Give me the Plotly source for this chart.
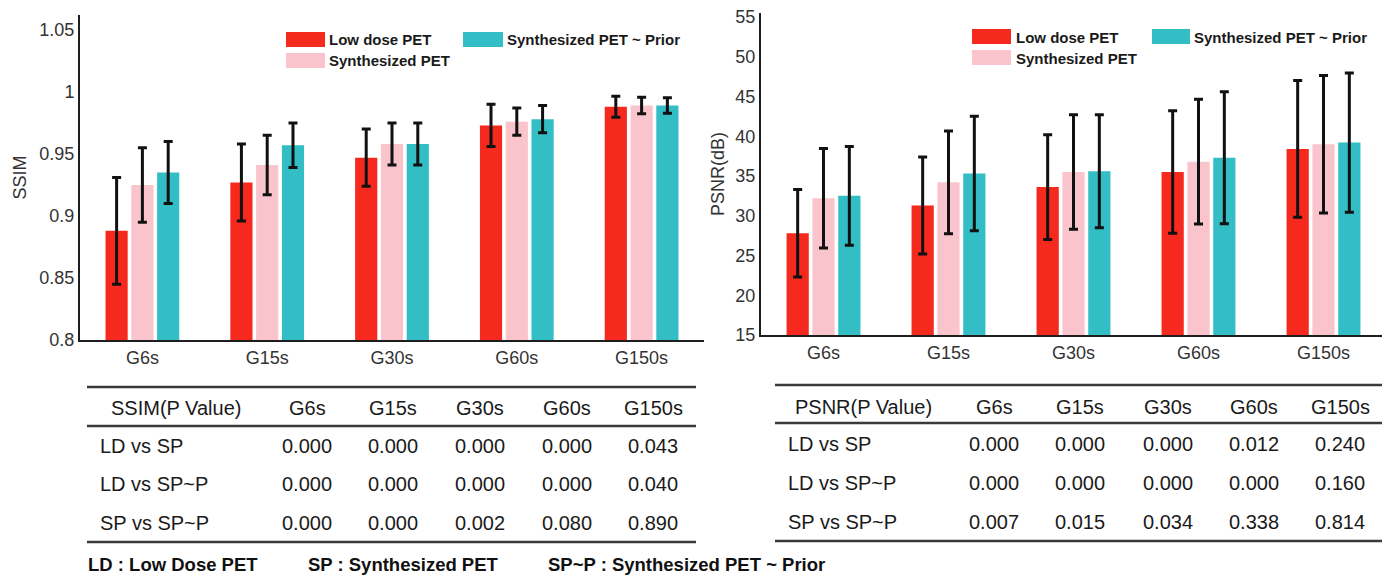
import plotly.graph_objects as go

# The page body has an 8px default margin; figure is sized so it fills the window from there.
OFF = 8
W, H = 1390 - OFF, 578 - OFF

# ---------------- data ----------------
groups = ["G6s", "G15s", "G30s", "G60s", "G150s"]
series_names = ["Low dose PET", "Synthesized PET", "Synthesized PET ~ Prior"]
series_colors = ["#F5291E", "#F9C4CB", "#33BEC6"]

ssim_ld = [0.888, 0.927, 0.947, 0.973, 0.988]
ssim_ld_err = [0.043, 0.031, 0.023, 0.017, 0.0085]
ssim_sp = [0.925, 0.941, 0.958, 0.976, 0.989]
ssim_sp_err = [0.030, 0.024, 0.017, 0.011, 0.0067]
ssim_spp = [0.935, 0.957, 0.958, 0.978, 0.989]
ssim_spp_err = [0.025, 0.018, 0.017, 0.011, 0.0063]

psnr_ld = [27.8, 31.3, 33.6, 35.5, 38.4]
psnr_ld_err = [5.5, 6.1, 6.6, 7.7, 8.6]
psnr_sp = [32.2, 34.2, 35.5, 36.8, 39.0]
psnr_sp_err = [6.25, 6.45, 7.2, 7.85, 8.65]
psnr_spp = [32.5, 35.3, 35.6, 37.3, 39.2]
psnr_spp_err = [6.2, 7.2, 7.1, 8.3, 8.75]

ssim_ticks = [0.8, 0.85, 0.9, 0.95, 1, 1.05]
psnr_ticks = [15, 20, 25, 30, 35, 40, 45, 50, 55]

table_cols = ["G6s", "G15s", "G30s", "G60s", "G150s"]
row_labels = ["LD vs SP", "LD vs SP~P", "SP vs SP~P"]
ssim_p = [
    ["0.000", "0.000", "0.000", "0.000", "0.043"],
    ["0.000", "0.000", "0.000", "0.000", "0.040"],
    ["0.000", "0.000", "0.002", "0.080", "0.890"],
]
psnr_p = [
    ["0.000", "0.000", "0.000", "0.012", "0.240"],
    ["0.000", "0.000", "0.000", "0.000", "0.160"],
    ["0.007", "0.015", "0.034", "0.338", "0.814"],
]
footer = ["LD : Low Dose PET", "SP : Synthesized PET", "SP~P : Synthesized PET ~ Prior"]

# ---------------- helpers (page pixel -> paper fraction) ----------------
FONT = "Arial, 'Liberation Sans', sans-serif"
def X(px):
    return (px - OFF) / W
def Y(py):
    return 1 - (py - OFF) / H

fig = go.Figure()

ssim_vals = [(ssim_ld, ssim_ld_err), (ssim_sp, ssim_sp_err), (ssim_spp, ssim_spp_err)]
psnr_vals = [(psnr_ld, psnr_ld_err), (psnr_sp, psnr_sp_err), (psnr_spp, psnr_spp_err)]

for (vals, errs), name, col in zip(ssim_vals, series_names, series_colors):
    fig.add_trace(go.Bar(
        x=groups, y=vals, name=name, marker_color=col, marker_line_width=0,
        error_y=dict(type="data", array=errs, color="#111111", thickness=3, width=4.5),
        xaxis="x", yaxis="y", showlegend=False, offsetgroup=name,
    ))
for (vals, errs), name, col in zip(psnr_vals, series_names, series_colors):
    fig.add_trace(go.Bar(
        x=groups, y=vals, name=name, marker_color=col, marker_line_width=0,
        error_y=dict(type="data", array=errs, color="#111111", thickness=3, width=4.5),
        xaxis="x2", yaxis="y2", showlegend=False, offsetgroup=name,
    ))

axis_common = dict(
    showline=True, linecolor="#1e1e1e", linewidth=2, showgrid=False, zeroline=False,
    ticks="", tickfont=dict(family=FONT, size=18, color="#333333"), automargin=False,
    ticklabeloverflow="allow",
)

fig.update_layout(
    width=W, height=H, autosize=False,
    margin=dict(l=0, r=0, t=0, b=0),
    paper_bgcolor="white", plot_bgcolor="white",
    barmode="group", bargap=0.38, bargroupgap=0.14,
    font=dict(family=FONT, color="#222222"),
    xaxis=dict(domain=[X(80), X(704)], anchor="y", **axis_common),
    yaxis=dict(domain=[Y(340), Y(15)], anchor="x", range=[0.8, 1.062],
               tickvals=ssim_ticks,
               title=dict(text="SSIM", font=dict(family=FONT, size=18, color="#333333"), standoff=8),
               **axis_common),
    xaxis2=dict(domain=[X(761), X(1386)], anchor="y2", **axis_common),
    yaxis2=dict(domain=[Y(335), Y(13)], anchor="x2", range=[15, 55.5],
                tickvals=psnr_ticks,
                title=dict(text="PSNR(dB)", font=dict(family=FONT, size=18, color="#333333"), standoff=6),
                **axis_common),
)

shapes = []
annotations = []

# ---------------- manual legends ----------------
legend_specs = [
    # (box x0, box x1, box y0, box y1, text x, text y)
    [(286, 325, 32, 47, 328, 40), (286, 325, 53, 68, 328, 61), (463, 503, 32, 47, 506, 40)],
    [(972, 1011, 29, 44, 1015, 37), (972, 1011, 50, 65, 1015, 58), (1152, 1190, 29, 44, 1193, 37)],
]
for spec in legend_specs:
    for (bx0, bx1, by0, by1, tx, ty), name, col in zip(spec, series_names, series_colors):
        shapes.append(dict(type="rect", xref="paper", yref="paper",
                           x0=X(bx0), x1=X(bx1), y0=Y(by1), y1=Y(by0),
                           fillcolor=col, line=dict(width=0)))
        annotations.append(dict(xref="paper", yref="paper", x=X(tx), y=Y(ty),
                                text=f"<b>{name}</b>", showarrow=False,
                                xanchor="left", yanchor="middle", borderpad=0,
                                font=dict(family=FONT, size=15, color="#1a1a1a")))

# ---------------- tables ----------------
def add_table(title, pvals, x0, x1, y_top, y_hb, y_bot, y_head, rows_y,
              title_cx, label_x, col_x):
    for yy in (y_top, y_hb, y_bot):
        shapes.append(dict(type="line", xref="paper", yref="paper",
                           x0=X(x0), x1=X(x1), y0=Y(yy), y1=Y(yy),
                           line=dict(color="#3a3a3a", width=2.5)))
    annotations.append(dict(xref="paper", yref="paper", x=X(title_cx), y=Y(y_head),
                            text=title, showarrow=False, xanchor="center", yanchor="middle",
                            font=dict(family=FONT, size=20, color="#1a1a1a")))
    for cx, c in zip(col_x, table_cols):
        annotations.append(dict(xref="paper", yref="paper", x=X(cx), y=Y(y_head),
                                text=c, showarrow=False, xanchor="center", yanchor="middle",
                                font=dict(family=FONT, size=20, color="#1a1a1a")))
    for ry, lab, row in zip(rows_y, row_labels, pvals):
        annotations.append(dict(xref="paper", yref="paper", x=X(label_x), y=Y(ry),
                                text=lab, showarrow=False, xanchor="left", yanchor="middle",
                                borderpad=0,
                                font=dict(family=FONT, size=20, color="#1a1a1a")))
        for cx, v in zip(col_x, row):
            annotations.append(dict(xref="paper", yref="paper", x=X(cx), y=Y(ry),
                                    text=v, showarrow=False, xanchor="center", yanchor="middle",
                                    font=dict(family=FONT, size=20, color="#1a1a1a")))

add_table("SSIM(P Value)", ssim_p, 87, 696, 387, 426, 542, 408, [446, 484, 523],
          176, 99, [307, 393, 480, 567, 653])
add_table("PSNR(P Value)", psnr_p, 775, 1383, 385, 423, 541, 407, [444, 483, 522],
          863, 787, [994, 1080, 1168, 1254, 1340])

# ---------------- footer ----------------
for fx, txt in zip([87, 307, 547], footer):
    annotations.append(dict(xref="paper", yref="paper", x=X(fx), y=Y(564),
                            text=f"<b>{txt}</b>", showarrow=False, xanchor="left", yanchor="middle",
                            borderpad=0,
                            font=dict(family=FONT, size=18.5, color="#111111")))

fig.update_layout(shapes=shapes, annotations=annotations)
fig.write_html("out.html")
